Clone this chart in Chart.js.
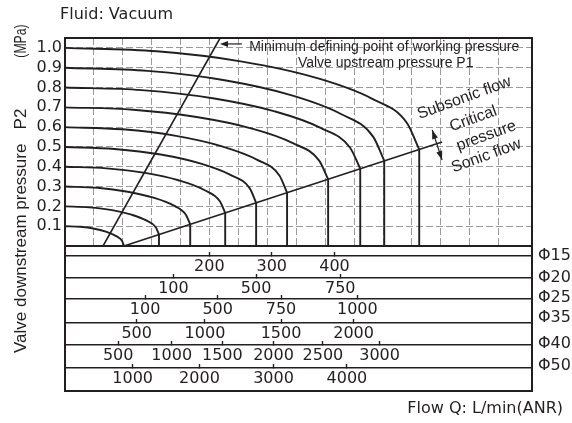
<!DOCTYPE html>
<html>
<head>
<meta charset="utf-8">
<script src="https://cdn.jsdelivr.net/npm/chart.js@4.4.1/dist/chart.umd.min.js"></script>
<style>
html,body{margin:0;padding:0;background:#fff;}
#wrap{position:relative;width:572px;height:423px;}
</style>
</head>
<body>
<div id="wrap"><canvas id="c" width="572" height="423"></canvas></div>
<script>
// ---------------- DATA ----------------
// Flow axis is expressed in grid cells of the main plot (0 .. 16.15)
const upstreamP1 = [0.1, 0.2, 0.3, 0.4, 0.5, 0.6, 0.7, 0.8, 0.9, 1.0];

const flowP1_01 = [0, 0.53, 1.02, 1.44, 1.77, 1.97, 2.04];
const p2P1_01   = [0.100, 0.097, 0.087, 0.071, 0.050, 0.026, 0];
const flowP1_02 = [0, 0.84, 1.63, 2.30, 2.81, 3.14, 3.25, 3.25];
const p2P1_02   = [0.200, 0.195, 0.181, 0.158, 0.129, 0.095, 0.058, 0];
const flowP1_03 = [0, 1.12, 2.17, 3.06, 3.75, 4.18, 4.33, 4.33];
const p2P1_03   = [0.300, 0.294, 0.274, 0.244, 0.205, 0.158, 0.109, 0];
const flowP1_04 = [0, 1.43, 2.77, 3.92, 4.80, 5.35, 5.54, 5.54];
const p2P1_04   = [0.400, 0.392, 0.369, 0.332, 0.284, 0.227, 0.167, 0];
const flowP1_05 = [0, 1.71, 3.31, 4.67, 5.72, 6.39, 6.61, 6.61];
const p2P1_05   = [0.500, 0.490, 0.462, 0.417, 0.359, 0.291, 0.218, 0];
const flowP1_06 = [0, 1.99, 3.84, 5.43, 6.65, 7.42, 7.68, 7.68];
const p2P1_06   = [0.600, 0.589, 0.556, 0.503, 0.435, 0.355, 0.269, 0];
const flowP1_07 = [0, 2.36, 4.55, 6.43, 7.88, 8.79, 9.10, 9.10];
const p2P1_07   = [0.700, 0.688, 0.651, 0.594, 0.519, 0.431, 0.337, 0];
const flowP1_08 = [0, 2.64, 5.11, 7.22, 8.84, 9.86, 10.21, 10.21];
const p2P1_08   = [0.800, 0.787, 0.746, 0.681, 0.596, 0.496, 0.390, 0];
const flowP1_09 = [0, 2.86, 5.52, 7.81, 9.56, 10.66, 11.04, 11.04];
const p2P1_09   = [0.900, 0.884, 0.837, 0.762, 0.665, 0.551, 0.430, 0];
const flowP1_10 = [0, 3.17, 6.13, 8.66, 10.61, 11.83, 12.25, 12.25];
const p2P1_10   = [1.000, 0.983, 0.931, 0.850, 0.744, 0.620, 0.487, 0];

// Minimum defining point of working pressure line, critical (sonic) line
const minLineQ    = [1.315, 5.363];
const minLineP2   = [0, 1.05];
const sonicLineQ  = [2.04, 13.04];
const sonicLineP2 = [0, 0.525];

// Axis ticks
const pressureTicks = [0.1, 0.2, 0.3, 0.4, 0.5, 0.6, 0.7, 0.8, 0.9, 1.0];
const gridCells = [1, 2, 3, 4, 5, 6, 7, 8, 9, 10, 11, 12, 13, 14, 15];

// Flow scales for each pipe size: label values and where they fall on the Q grid
const pipeSizes   = ['Φ15', 'Φ20', 'Φ25', 'Φ35', 'Φ40', 'Φ50'];
const phi15Labels = [200, 300, 400];
const phi15Q      = [4.99, 7.15, 9.32];
const phi20Labels = [100, 500, 750];
const phi20Q      = [3.75, 6.61, 9.52];
const phi25Labels = [100, 500, 750, 1000];
const phi25Q      = [2.77, 5.28, 7.47, 10.11];
const phi35Labels = [500, 1000, 1500, 2000];
const phi35Q      = [2.48, 4.84, 7.47, 9.98];
const phi40Labels = [500, 1000, 1500, 2000, 2500, 3000];
const phi40Q      = [1.84, 3.69, 5.44, 7.21, 8.92, 10.88];
const phi50Labels = [1000, 2000, 3000, 4000];
const phi50Q      = [2.34, 4.65, 7.21, 9.75];

// ---------------- STYLE ----------------
const XMAX = 16.15;
const INK = '#231f20';
const GRID = '#9a9a9a';
const NUM_FONT = {family: "'DejaVu Sans', sans-serif", size: 16};

const curveFlows = [flowP1_01, flowP1_02, flowP1_03, flowP1_04, flowP1_05, flowP1_06, flowP1_07, flowP1_08, flowP1_09, flowP1_10];
const curveP2s   = [p2P1_01, p2P1_02, p2P1_03, p2P1_04, p2P1_05, p2P1_06, p2P1_07, p2P1_08, p2P1_09, p2P1_10];

const datasets = [];
upstreamP1.forEach((p1, k) => {
  const pts = curveFlows[k].map((q, i) => ({x: q, y: curveP2s[k][i]}));
  const n = pts.length;
  const hasDrop = n > 1 && pts[n - 1].x === pts[n - 2].x;
  // curved (subsonic) part: smooth monotone spline
  datasets.push({
    label: 'P1 = ' + p1.toFixed(1),
    data: hasDrop ? pts.slice(0, n - 1) : pts,
    showLine: true, borderColor: INK, borderWidth: 1.9, pointRadius: 0,
    cubicInterpolationMode: 'monotone', tension: 0.4, fill: false, xAxisID: 'x', yAxisID: 'y'
  });
  // sonic part: straight vertical drop
  if (hasDrop) {
    datasets.push({
      label: 'P1 = ' + p1.toFixed(1) + ' sonic',
      data: pts.slice(n - 2),
      showLine: true, borderColor: INK, borderWidth: 1.9, pointRadius: 0, tension: 0,
      xAxisID: 'x', yAxisID: 'y'
    });
  }
});
datasets.push({
  label: 'min', data: minLineQ.map((q, i) => ({x: q, y: minLineP2[i]})),
  showLine: true, borderColor: INK, borderWidth: 1.6, pointRadius: 0, tension: 0, xAxisID: 'x', yAxisID: 'y'
});
datasets.push({
  label: 'sonic', data: sonicLineQ.map((q, i) => ({x: q, y: sonicLineP2[i]})),
  showLine: true, borderColor: INK, borderWidth: 1.6, pointRadius: 0, tension: 0, xAxisID: 'x', yAxisID: 'y'
});

function rowAxis(weight, positions, labels, height) {
  return {
    type: 'linear', position: 'bottom', weight: weight, min: 0, max: XMAX,
    grid: {drawOnChartArea: false, drawTicks: true, tickLength: -4, tickWidth: 1.4, tickColor: INK, color: INK},
    border: {display: true, color: INK, width: 1.5},
    ticks: {font: NUM_FONT, color: INK, padding: 5, autoSkip: false, maxRotation: 0, minRotation: 0,
            callback: (v, i) => String(labels[i])},
    afterBuildTicks: s => { s.ticks = positions.map(v => ({value: v})); },
    afterFit: s => { s.height = height; }
  };
}

function arrowHead(ctx, x1, y1, x2, y2, len, half) {
  const a = Math.atan2(y2 - y1, x2 - x1);
  const bx = x2 - len * Math.cos(a), by = y2 - len * Math.sin(a);
  ctx.beginPath();
  ctx.moveTo(x2, y2);
  ctx.lineTo(bx + half * Math.sin(a), by - half * Math.cos(a));
  ctx.lineTo(bx - half * Math.sin(a), by + half * Math.cos(a));
  ctx.closePath();
  ctx.fill();
}

const decor = {
  id: 'decor',
  afterDraw(chart) {
    const {ctx, chartArea: a, scales} = chart;
    const X = v => scales.x.getPixelForValue(v);
    const Y = v => scales.y.getPixelForValue(v);
    const bottom = scales.r50.bottom;
    ctx.save();
    // frame
    ctx.strokeStyle = INK; ctx.lineWidth = 2;
    ctx.beginPath();
    ctx.moveTo(a.left - 1, a.top); ctx.lineTo(a.right + 1, a.top);
    ctx.moveTo(a.right, a.top); ctx.lineTo(a.right, bottom);
    ctx.moveTo(a.left, a.bottom); ctx.lineTo(a.left, bottom);
    ctx.moveTo(a.left - 1, bottom); ctx.lineTo(a.right + 1, bottom);
    ctx.stroke();

    ctx.fillStyle = INK;
    // arrow to minimum line
    const ax1 = X(6.12), ax2 = X(5.36), ay = Y(1.02);
    ctx.lineWidth = 1.2;
    ctx.beginPath(); ctx.moveTo(ax1, ay); ctx.lineTo(ax2 + 5, ay); ctx.stroke();
    arrowHead(ctx, ax1, ay, ax2, ay, 8, 3);
    // double arrow across critical line
    const dx1 = X(12.70), dy1 = Y(0.586), dx2 = X(13.04), dy2 = Y(0.434);
    ctx.beginPath(); ctx.moveTo(dx1, dy1); ctx.lineTo(dx2, dy2); ctx.stroke();
    arrowHead(ctx, dx2, dy2, dx1, dy1, 9, 3);
    arrowHead(ctx, dx1, dy1, dx2, dy2, 9, 3);

    // annotation texts
    ctx.textBaseline = 'middle';
    ctx.font = "14px 'Liberation Sans', Arial, sans-serif";
    ctx.textAlign = 'left';
    ctx.fillText('Minimum defining point of working pressure', X(6.37), Y(1.005));
    ctx.textAlign = 'center';
    ctx.fillText('Valve upstream pressure P1', X(11.09), Y(0.924));

    ctx.font = "16px 'Liberation Sans', Arial, sans-serif";
    const rot = [['Subsonic flow', 13.81, 0.747], ['Critical', 14.12, 0.641], ['pressure', 14.57, 0.556], ['Sonic flow', 14.57, 0.455]];
    rot.forEach(([t, q, p]) => {
      ctx.save(); ctx.translate(X(q), Y(p)); ctx.rotate(-20 * Math.PI / 180);
      ctx.fillText(t, 0, 0); ctx.restore();
    });

    // pipe size labels at right of each flow scale
    ctx.font = "16px 'DejaVu Sans', sans-serif";
    ctx.textAlign = 'left';
    const rowIds = ['r15', 'r20', 'r25', 'r35', 'r40', 'r50'];
    const nudge = [0, 0, -1, -5, -1, -2];
    rowIds.forEach((id, i) => ctx.fillText(pipeSizes[i], a.right + 6, scales[id].top + nudge[i]));

    // titles
    ctx.fillText('Fluid: Vacuum', 60, 15);
    ctx.textAlign = 'right';
    ctx.fillText('Flow Q: L/min(ANR)', 563, 409);

    // y axis title (rotated)
    ctx.textBaseline = 'alphabetic';
    ctx.font = "17px 'Liberation Sans', Arial, sans-serif";
    ctx.save(); ctx.translate(26, 353); ctx.rotate(-Math.PI / 2);
    ctx.textAlign = 'left'; ctx.fillText('Valve downstream pressure', 0, 0); ctx.restore();
    ctx.save(); ctx.translate(26, 119); ctx.rotate(-Math.PI / 2);
    ctx.textAlign = 'center'; ctx.fillText('P2', 0, 0); ctx.restore();
    ctx.save(); ctx.translate(26, 41); ctx.rotate(-Math.PI / 2); ctx.scale(0.72, 1);
    ctx.textAlign = 'center'; ctx.fillText('(MPa)', 0, 0); ctx.restore();

    ctx.restore();
  }
};

new Chart(document.getElementById('c'), {
  type: 'scatter',
  data: {datasets: datasets},
  options: {
    responsive: false, animation: false, devicePixelRatio: 1,
    layout: {padding: {top: 38, right: 40, bottom: 32, left: 0}},
    plugins: {legend: {display: false}, tooltip: {enabled: false}, title: {display: false}},
    scales: {
      x: {
        type: 'linear', position: 'bottom', weight: 0, min: 0, max: XMAX,
        grid: {color: GRID, lineWidth: 1, drawTicks: false},
        border: {display: true, color: INK, width: 2, dash: [7, 3]},
        ticks: {display: false},
        afterBuildTicks: s => { s.ticks = gridCells.map(v => ({value: v})); },
        afterFit: s => { s.height = 10; }
      },
      y: {
        type: 'linear', position: 'left', min: 0, max: 1.05,
        grid: {color: GRID, lineWidth: 1, drawTicks: false},
        border: {display: true, color: INK, width: 2, dash: [7, 3]},
        ticks: {font: NUM_FONT, color: INK, padding: 3, autoSkip: false, callback: v => Number(v).toFixed(1)},
        afterBuildTicks: s => { s.ticks = pressureTicks.map(v => ({value: v})); },
        afterFit: s => { s.width = 65; }
      },
      r15: rowAxis(1, phi15Q, phi15Labels, 22),
      r20: rowAxis(2, phi20Q, phi20Labels, 21),
      r25: rowAxis(3, phi25Q, phi25Labels, 24),
      r35: rowAxis(4, phi35Q, phi35Labels, 22),
      r40: rowAxis(5, phi40Q, phi40Labels, 23),
      r50: rowAxis(6, phi50Q, phi50Labels, 23)
    }
  },
  plugins: [decor]
});
</script>
</body>
</html>
